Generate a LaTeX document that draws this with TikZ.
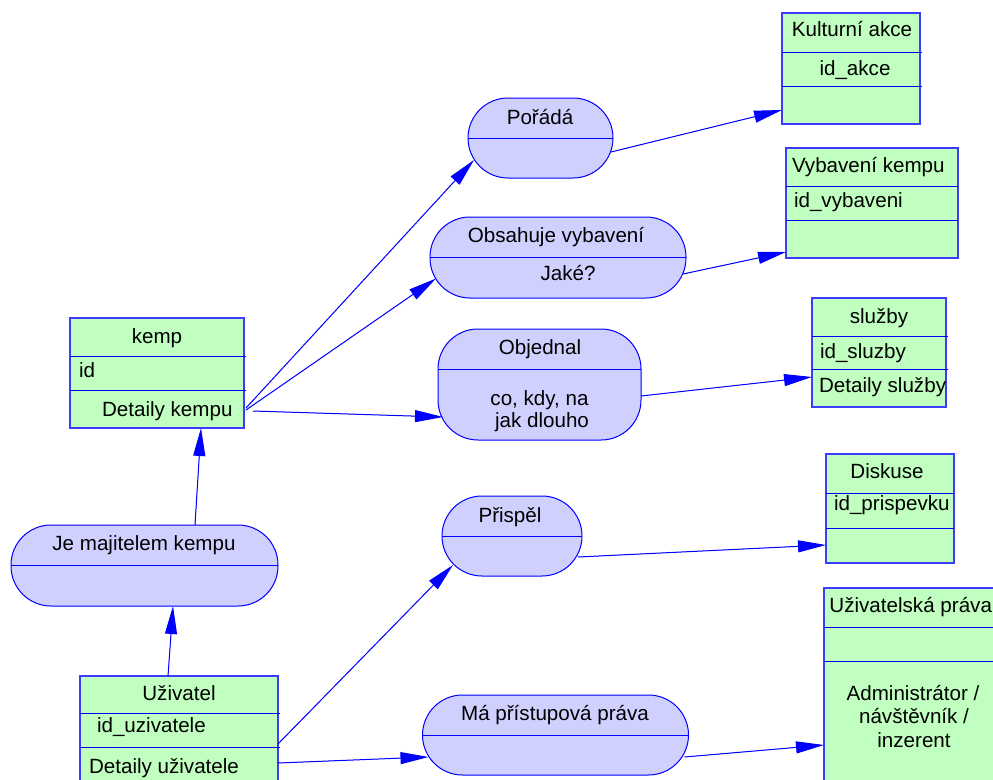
\documentclass[tikz,border=0pt]{standalone}
\usepackage{fontspec}
\setmainfont{Liberation Sans}
\usetikzlibrary{arrows.meta,calc}
\definecolor{entfill}{HTML}{C0FFC0}
\definecolor{relfill}{HTML}{D0D0FF}
\definecolor{lineblue}{HTML}{0000FF}
\definecolor{boxblue}{HTML}{3C3CFF}
\begin{document}
\begin{tikzpicture}[x=1pt,y=-1pt,
  ent/.style={draw=boxblue,line width=1.4pt,fill=entfill,inner sep=0pt,outer sep=0pt,anchor=north west},
  rel/.style={draw=lineblue,line width=1pt,fill=relfill,inner sep=0pt,outer sep=0pt,rounded corners=40pt},
  sepline/.style={draw=lineblue,line width=1pt},
  txt/.style={inner sep=0pt,outer sep=0pt,font=\fontsize{20.6}{24}\selectfont,text=black},
  conn/.style={draw=lineblue,line width=1pt,-{Triangle[length=28pt,width=12pt]},fill=lineblue}
]
\useasboundingbox (0,0) rectangle (993,779);
\fill[white] (0,0) rectangle (993,779);

% ---------- entities ----------
\node[ent,minimum width=174pt,minimum height=110pt] (kemp) at (70,318) {};
\draw[sepline] ($(kemp.north west)+(0,38)$) -- ++(176,0);
\draw[sepline] ($(kemp.north west)+(0,72)$) -- ++(176,0);
\node[txt,anchor=base] (kempT) at (157,343) {kemp};
\node[txt,anchor=base west] (kempA) at (79,377) {id};
\node[txt,anchor=base west] (kempB) at (102,416) {Detaily kempu};

\node[ent,minimum width=198pt,minimum height=112pt] (uziv) at (80,676) {};
\draw[sepline] ($(uziv.north west)+(0,37)$) -- ++(200,0);
\draw[sepline] ($(uziv.north west)+(0,71)$) -- ++(200,0);
\node[txt,anchor=base] (uzivT) at (179,700) {Uživatel};
\node[txt,anchor=base west] (uzivA) at (97,732) {id\_uzivatele};
\node[txt,anchor=base west] (uzivB) at (89,773) {Detaily uživatele};

\node[ent,minimum width=138pt,minimum height=111pt] (kultura) at (782,13) {};
\draw[sepline] ($(kultura.north west)+(0,39)$) -- ++(140,0);
\draw[sepline] ($(kultura.north west)+(0,73)$) -- ++(140,0);
\node[txt,anchor=base] (kulturaT) at (852,36) {Kulturní akce};
\node[txt,anchor=base] (kulturaA) at (855,75) {id\_akce};

\node[ent,minimum width=172pt,minimum height=110pt] (vybav) at (786,148) {};
\draw[sepline] ($(vybav.north west)+(0,38)$) -- ++(172,0);
\draw[sepline] ($(vybav.north west)+(0,72)$) -- ++(172,0);
\node[txt,anchor=base west] (vybavT) at (792,172) {Vybavení kempu};
\node[txt,anchor=base west] (vybavA) at (794,207) {id\_vybaveni};

\node[ent,minimum width=134pt,minimum height=109pt] (sluzby) at (812,298) {};
\draw[sepline] ($(sluzby.north west)+(0,38)$) -- ++(136,0);
\draw[sepline] ($(sluzby.north west)+(0,71)$) -- ++(136,0);
\node[txt,anchor=base] (sluzbyT) at (879,323) {služby};
\node[txt,anchor=base west] (sluzbyA) at (820,358) {id\_sluzby};
\node[txt,anchor=base west] (sluzbyB) at (819,392) {Detaily služby};

\node[ent,minimum width=128pt,minimum height=109pt] (diskuse) at (826,454) {};
\draw[sepline] ($(diskuse.north west)+(0,39)$) -- ++(128,0);
\draw[sepline] ($(diskuse.north west)+(0,74)$) -- ++(128,0);
\node[txt,anchor=base] (diskuseT) at (887,478) {Diskuse};
\node[txt,anchor=base west] (diskuseA) at (834,510) {id\_prispevku};

\node[ent,minimum width=180pt,minimum height=200pt] (prava) at (824,588) {};
\draw[sepline] ($(prava.north west)+(0,39)$) -- ++(180,0);
\draw[sepline] ($(prava.north west)+(0,73)$) -- ++(180,0);
\node[txt,anchor=base east] (pravaT) at (992,612) {Uživatelská práva};
\node[txt,anchor=base] (pravaA) at (913,700) {Administrátor /};
\node[txt,anchor=base] (pravaB) at (914,723) {návštěvník /};
\node[txt,anchor=base] (pravaC) at (914,747) {inzerent};

% ---------- relationships ----------
\node[rel,minimum width=267pt,minimum height=81pt] (majitel) at (144.5,565.5) {};
\draw[sepline] (majitel.west) -- (majitel.east);
\node[txt,anchor=base] (majitelT) at (144,550) {Je majitelem kempu};

\node[rel,minimum width=145pt,minimum height=80pt] (porada) at (540.5,138) {};
\draw[sepline] (porada.west) -- (porada.east);
\node[txt,anchor=base] (poradaT) at (540,124) {Pořádá};

\node[rel,minimum width=256pt,minimum height=81pt] (obsah) at (558,257.5) {};
\draw[sepline] (obsah.west) -- (obsah.east);
\node[txt,anchor=base] (obsahT) at (556,242) {Obsahuje vybavení};
\node[txt,anchor=base] (obsahA) at (568,280) {Jaké?};

\node[rel,minimum width=203pt,minimum height=111pt] (objed) at (539.5,384.5) {};
\draw[sepline] ($(objed.north west)+(0,40)$) -- ($(objed.north east)+(0,40)$);
\node[txt,anchor=base] (objedT) at (540,354) {Objednal};
\node[txt,anchor=base] (objedA) at (539.5,405) {co, kdy, na};
\node[txt,anchor=base] (objedB) at (542,427) {jak dlouho};

\node[rel,minimum width=140pt,minimum height=80pt] (prisp) at (512,536) {};
\draw[sepline] (prisp.west) -- (prisp.east);
\node[txt,anchor=base] (prispT) at (510,522) {Přispěl};

\node[rel,minimum width=266pt,minimum height=80pt] (pristup) at (555.5,735) {};
\draw[sepline] (pristup.west) -- (pristup.east);
\node[txt,anchor=base] (pristupT) at (555,720) {Má přístupová práva};

% ---------- connectors ----------
\draw[conn] ($(uziv.north west)+(88,0)$) -- ($(majitel.south west)+(162,0)$);
\draw[conn] ($(majitel.north west)+(184,0)$) -- ($(kemp.south west)+(131,0)$);
\draw[conn] ($(kemp.east)+(2,35)$) -- ($(porada.west)+(6,22)$);
\draw[conn] ($(kemp.east)+(2,37)$) -- ($(obsah.west)+(6,21)$);
\draw[conn] ($(kemp.east)+(9,38)$) -- ($(objed.west)+(5,32.5)$);
\draw[conn] ($(porada.east)+(-2,14)$) -- ($(kultura.south west)+(0,-14)$);
\draw[conn] ($(obsah.east)+(-3,16.5)$) -- ($(vybav.south west)+(0,-6)$);
\draw[conn] ($(objed.east)+(0,11.5)$) -- ($(sluzby.west)+(0,24.5)$);
\draw[conn] ($(uziv.north east)+(0,68)$) -- ($(prisp.west)+(11,29)$);
\draw[conn] ($(uziv.north east)+(0,87)$) -- ($(pristup.west)+(6,22)$);
\draw[conn] ($(prisp.east)+(-4,21)$) -- ($(diskuse.south west)+(0,-18)$);
\draw[conn] ($(pristup.east)+(-4,22)$) -- ($(prava.north west)+(0,157)$);
\end{tikzpicture}
\end{document}
